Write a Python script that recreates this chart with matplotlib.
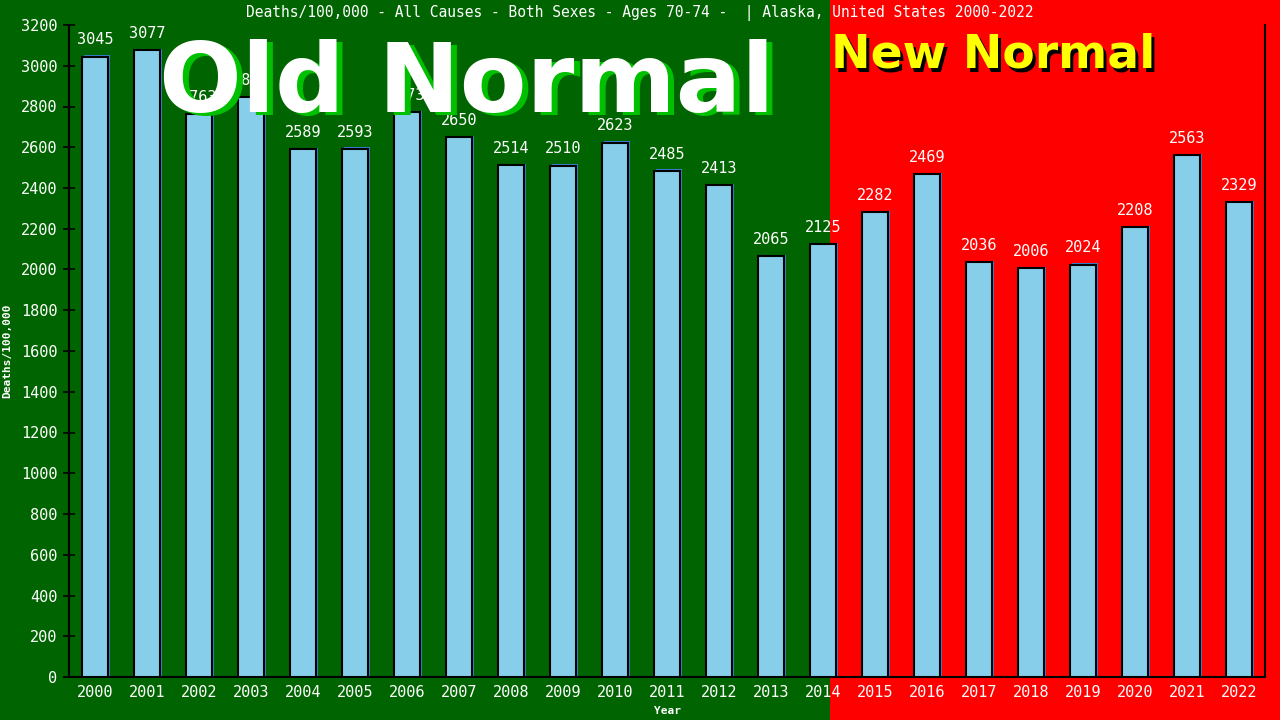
import matplotlib
matplotlib.use("Agg")
import matplotlib.pyplot as plt
from matplotlib.patches import Rectangle
from matplotlib import transforms

years = [str(y) for y in range(2000, 2023)]
values = [3045, 3077, 2763, 2847, 2589, 2593, 2773, 2650, 2514, 2510, 2623, 2485,
          2413, 2065, 2125, 2282, 2469, 2036, 2006, 2024, 2208, 2563, 2329]
title = "Deaths/100,000 - All Causes - Both Sexes - Ages 70-74 -  | Alaska, United States 2000-2022"
yticks = list(range(0, 3201, 200))

W, H = 1280, 720
fig = plt.figure(figsize=(12.8, 7.2), dpi=100)
split = 830 / W
fig.patches.append(Rectangle((0, 0), split, 1, transform=fig.transFigure,
                             facecolor="#006400", edgecolor="none", zorder=-10))
fig.patches.append(Rectangle((split, 0), 1 - split, 1, transform=fig.transFigure,
                             facecolor="#ff0000", edgecolor="none", zorder=-10))

ax = fig.add_axes([69 / W, 43 / H, 1196 / W, 652 / H])
ax.set_facecolor("none")
x = list(range(len(years)))
mono = "DejaVu Sans Mono"

# shadow bars
shadow_dx = 2 / 52
ax.bar([i + shadow_dx for i in x], [v + 6 for v in values], width=0.5,
       color="#3a7fd0", edgecolor="none", zorder=2)
ax.bar(x, values, width=0.5, color="#87ceeb", edgecolor="black", linewidth=1.5, zorder=3)

for i, v in zip(x, values):
    ax.text(i, v + 45, str(v), ha="center", va="bottom", color="white",
            fontsize=11, family=mono, zorder=4)

ax.set_xlim(-0.5, len(years) - 0.5)
ax.set_ylim(0, 3200)
ax.set_xticks(x)
ax.set_xticklabels(years, color="white", fontsize=11, family=mono)
ax.set_yticks(yticks)
ax.set_yticklabels([str(t) for t in yticks], color="white", fontsize=11, family=mono)
ax.tick_params(axis="x", length=0, pad=6)
ax.tick_params(axis="y", direction="inout", length=9, width=1.2, color="black", pad=4)
ax.spines["top"].set_visible(False)
for s in ["left", "bottom", "right"]:
    ax.spines[s].set_color("black")
    ax.spines[s].set_linewidth(1.5)

ax.set_xlabel("Year", color="white", fontsize=8, family=mono, fontweight="bold", labelpad=4)
ax.set_ylabel("Deaths/100,000", color="white", fontsize=8, family=mono, fontweight="bold", labelpad=6)

fig.text(0.5, 1 - 13 / H, title, ha="center", va="center", color="white",
         fontsize=10.5, family=mono)

def shadow_text(xf, yf, s, color, shadow, size, dx, dy):
    off = transforms.offset_copy(fig.transFigure, fig=fig, x=dx, y=-dy, units="dots")
    fig.text(xf, yf, s, transform=off, ha="center", va="baseline", color=shadow,
             fontsize=size, fontweight="bold", family="DejaVu Sans", zorder=5)
    fig.text(xf, yf, s, ha="center", va="baseline", color=color,
             fontsize=size, fontweight="bold", family="DejaVu Sans", zorder=6)

shadow_text(467 / W, 1 - 112 / H, "Old Normal", "white", "#00c000", 70, 6, 3)
shadow_text(993 / W, 1 - 68 / H, "New Normal", "#ffff00", "black", 34, 3, 3)

fig.savefig("out.png", dpi=100)
